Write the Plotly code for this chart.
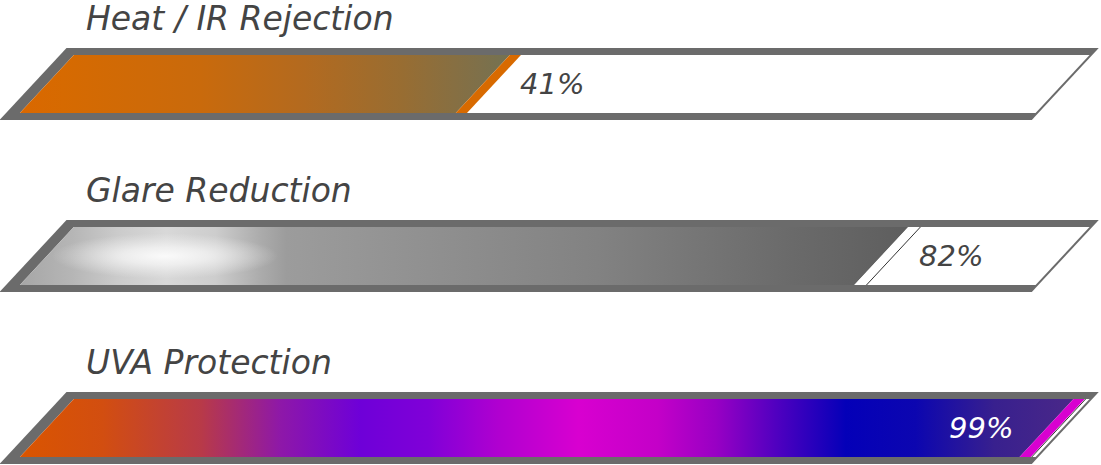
import plotly.graph_objects as go

# metrics, top to bottom
labels = ["Heat / IR Rejection", "Glare Reduction", "UVA Protection"]
values = [41, 82, 99]
pct_text = ["41%", "82%", "99%"]

# pixel <-> value scale of the x axis (value units = percent)
PX = 9.72
X0 = 122.4
W, H = 1101, 465
ROW_PX = 172.0          # spacing between bars in pixels
TOP_PX = 84.0           # centre of first bar in pixels
SL = 0.93 / PX          # slant (value units per pixel of height)

OUT_L, OUT_R, OUT_H = -5.75, 100.45, 36 / ROW_PX
IN_L, IN_R, IN_H = -5.0, 99.5, 29 / ROW_PX
STRIPE = 1.15
FONT = "DejaVu Sans"

GRADIENTS = [
    [[0, "#da6800"], [0.09, "#d66a01"], [0.37, "#c96a0c"], [0.58, "#b36a1f"],
     [0.78, "#986d32"], [0.94, "#7e704a"], [1, "#737252"]],
    [[0, "#a6a6a6"], [0.06, "#b6b6b6"], [0.11, "#cbcbcb"], [0.165, "#d8d8d8"],
     [0.22, "#cdcdcd"], [0.27, "#acacac"], [0.30, "#9c9c9c"], [0.42, "#939393"],
     [0.65, "#828282"], [0.87, "#6a6a6a"], [1, "#5e5e5e"]],
    [[0, "#da5500"], [0.078, "#d24e10"], [0.172, "#b83a48"], [0.247, "#8e18a8"],
     [0.323, "#6e00d8"], [0.388, "#8000d8"], [0.454, "#b000d0"], [0.53, "#d800d0"],
     [0.605, "#c400c8"], [0.661, "#9800c4"], [0.718, "#5000c0"], [0.784, "#0400b8"],
     [0.85, "#0c06b0"], [0.925, "#38208e"], [1, "#4a2888"]],
]
GLARE = [[0, "rgba(250,250,250,1)"], [0.3, "rgba(246,246,246,0.75)"],
         [0.78, "rgba(240,240,240,0)"], [1, "rgba(240,240,240,0)"]]
STRIPE_COL = ["#d86a00", "#ffffff", "#d800d0"]
TEXT_COL = ["#444444", "#444444", "#ffffff"]


def para(xl, xr, yc, h):
    """parallelogram: top edge xl..xr, bottom edge shifted left by slant"""
    s = SL * (2 * h * ROW_PX)
    return ([xl, xr, xr - s, xl - s, xl], [yc - h, yc - h, yc + h, yc + h, yc - h])


def poly(x, y, **kw):
    return go.Scatter(x=x, y=y, fill="toself", line=dict(width=0), mode="lines",
                      hoverinfo="skip", **kw)


fig = go.Figure()
for i, (lab, v) in enumerate(zip(labels, values)):
    yc = i
    fig.add_trace(poly(*para(OUT_L, OUT_R, yc, OUT_H), fillcolor="#6b6b6b"))
    fig.add_trace(poly(*para(IN_L, IN_R, yc, IN_H), fillcolor="#ffffff"))
    fig.add_trace(poly(*para(IN_L, v - STRIPE, yc, IN_H),
                       fillgradient=dict(type="horizontal", colorscale=GRADIENTS[i])))
    if i == 1:
        # soft glare highlight
        fig.add_trace(poly(*para(IN_L, 19.3, yc, IN_H),
                           fillgradient=dict(type="radial", colorscale=GLARE)))
    fig.add_trace(poly(*para(v - STRIPE, v, yc, IN_H), fillcolor=STRIPE_COL[i]))
    if i > 0:
        s = SL * (2 * IN_H * ROW_PX)
        fig.add_trace(go.Scatter(x=[v + 0.1, v + 0.1 - s], y=[yc - IN_H, yc + IN_H],
                                 mode="lines", line=dict(color="#333333", width=1),
                                 hoverinfo="skip"))
    fig.add_annotation(x=-3.9, y=yc - 0.17 - OUT_H, text=lab, showarrow=False,
                       xanchor="left", yanchor="middle",
                       font=dict(family=FONT, size=33, color="#444444",
                                 style="italic"))
    inside = v > 90
    fig.add_annotation(x=v - 7.2 if inside else v - 0.3, y=yc, text=pct_text[i],
                       showarrow=False, xanchor="right" if inside else "left",
                       yanchor="middle",
                       font=dict(family=FONT, size=29, color=TEXT_COL[i],
                                 style="italic"))

fig.update_layout(
    width=W, height=H, margin=dict(l=0, r=0, t=0, b=0),
    paper_bgcolor="white", plot_bgcolor="white", showlegend=False,
    xaxis=dict(range=[-X0 / PX, (W - X0) / PX], visible=False, fixedrange=True),
    yaxis=dict(range=[(H - TOP_PX) / ROW_PX, -TOP_PX / ROW_PX], visible=False,
               fixedrange=True),
)
fig.write_html("out.html", config={"displayModeBar": False},
               post_script="document.body.style.margin='0';")
